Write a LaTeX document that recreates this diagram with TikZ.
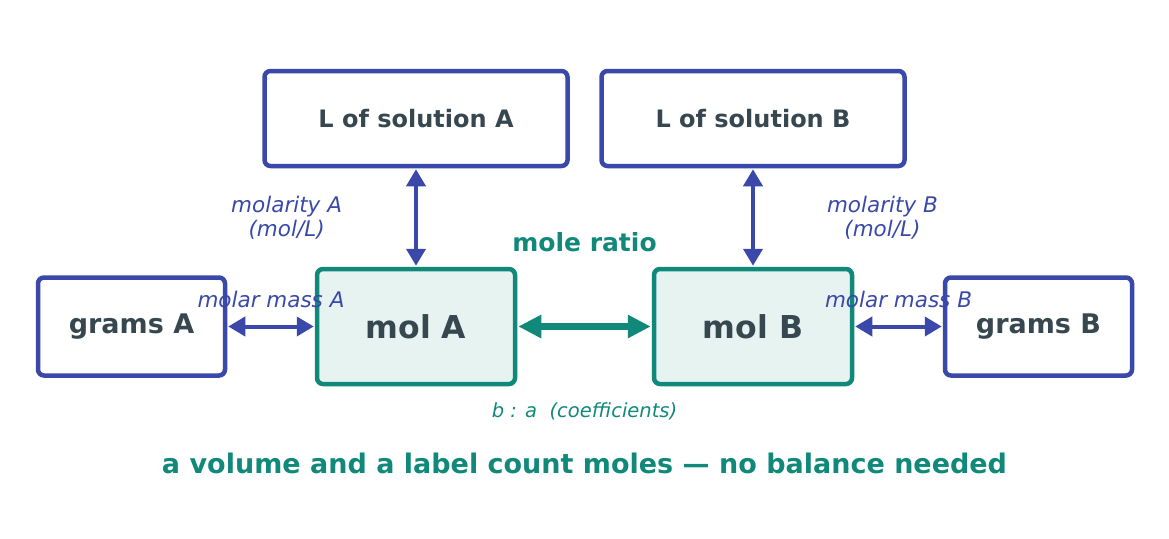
\documentclass[tikz,border=0pt]{standalone}
\usepackage{fontspec}
\setmainfont{DejaVu Sans}
\usetikzlibrary{positioning,arrows.meta}

\definecolor{inkblue}{HTML}{3A48AA}
\definecolor{inkteal}{HTML}{10897A}
\definecolor{molfill}{HTML}{E7F3F1}
\definecolor{slate}{HTML}{37474F}

\begin{document}
\begin{tikzpicture}[x=1pt,y=1pt,
	>={Triangle[length=17pt,width=19pt]},
	unitbox/.style={
		% The shape:
		rectangle, rounded corners=6pt,
		% The border:
		line width=4.5pt,
		draw=inkblue,
		% Font
		text=slate,
		font=\bfseries\fontsize{24}{28}\selectfont
		},
	molbox/.style={
		unitbox,
		% The size:
		minimum width=198pt, minimum height=115pt,
		% teal border, pale teal filling
		draw=inkteal, fill=molfill,
		font=\bfseries\fontsize{31.5}{36}\selectfont
		},
	convert/.style={<->, line width=4pt, draw=inkblue, shorten <=1pt, shorten >=1pt},
	ratio/.style={{Triangle[length=23pt,width=22pt]}-{Triangle[length=23pt,width=22pt]},
		line width=7pt, draw=inkteal, shorten <=1pt, shorten >=1pt},
	factor/.style={font=\itshape\fontsize{21.5}{24}\selectfont, text=inkblue, inner sep=0pt, align=center}]

	\useasboundingbox (0,0) rectangle (1169,-538);

	\node (mola) [molbox] at (416,-326.5) {mol A};
	\node (molb) [molbox,right=134.5pt of mola] {mol B};
	\node (gramsa) [unitbox,minimum width=187pt,minimum height=98pt,font=\bfseries\fontsize{27}{32}\selectfont,left=87.5pt of mola] {grams A};
	\node (gramsb) [unitbox,minimum width=187pt,minimum height=98pt,font=\bfseries\fontsize{27}{32}\selectfont,right=88.5pt of molb] {grams B};
	\node (sola) [unitbox,minimum width=303pt,minimum height=95pt,above=98.5pt of mola] {L of solution A};
	\node (solb) [unitbox,minimum width=303pt,minimum height=95pt,above=98.5pt of molb] {L of solution B};

	\path (sola) edge[convert] node[factor,left=72pt] {molarity A\\(mol/L)} (mola);
	\path (solb) edge[convert] node[factor,right=72pt] {molarity B\\(mol/L)} (molb);
	\path (gramsa) edge[convert] node[factor,above=17pt] {molar mass A} (mola);
	\path (molb) edge[convert] node[factor,above=17pt] {molar mass B} (gramsb);
	\path (mola) edge[ratio]
		node[above=71pt,inner sep=0pt,text=inkteal,font=\bfseries\fontsize{25}{30}\selectfont] {mole ratio}
		node[below=73pt,inner sep=0pt,text=inkteal,font=\itshape\fontsize{19.5}{23}\selectfont] {b : a\ \ (coefficients)} (molb);

	\node (summary) [text=inkteal,font=\bfseries\fontsize{27}{32}\selectfont] at (584.5,-463) {a volume and a label count moles — no balance needed};

\end{tikzpicture}
\end{document}
